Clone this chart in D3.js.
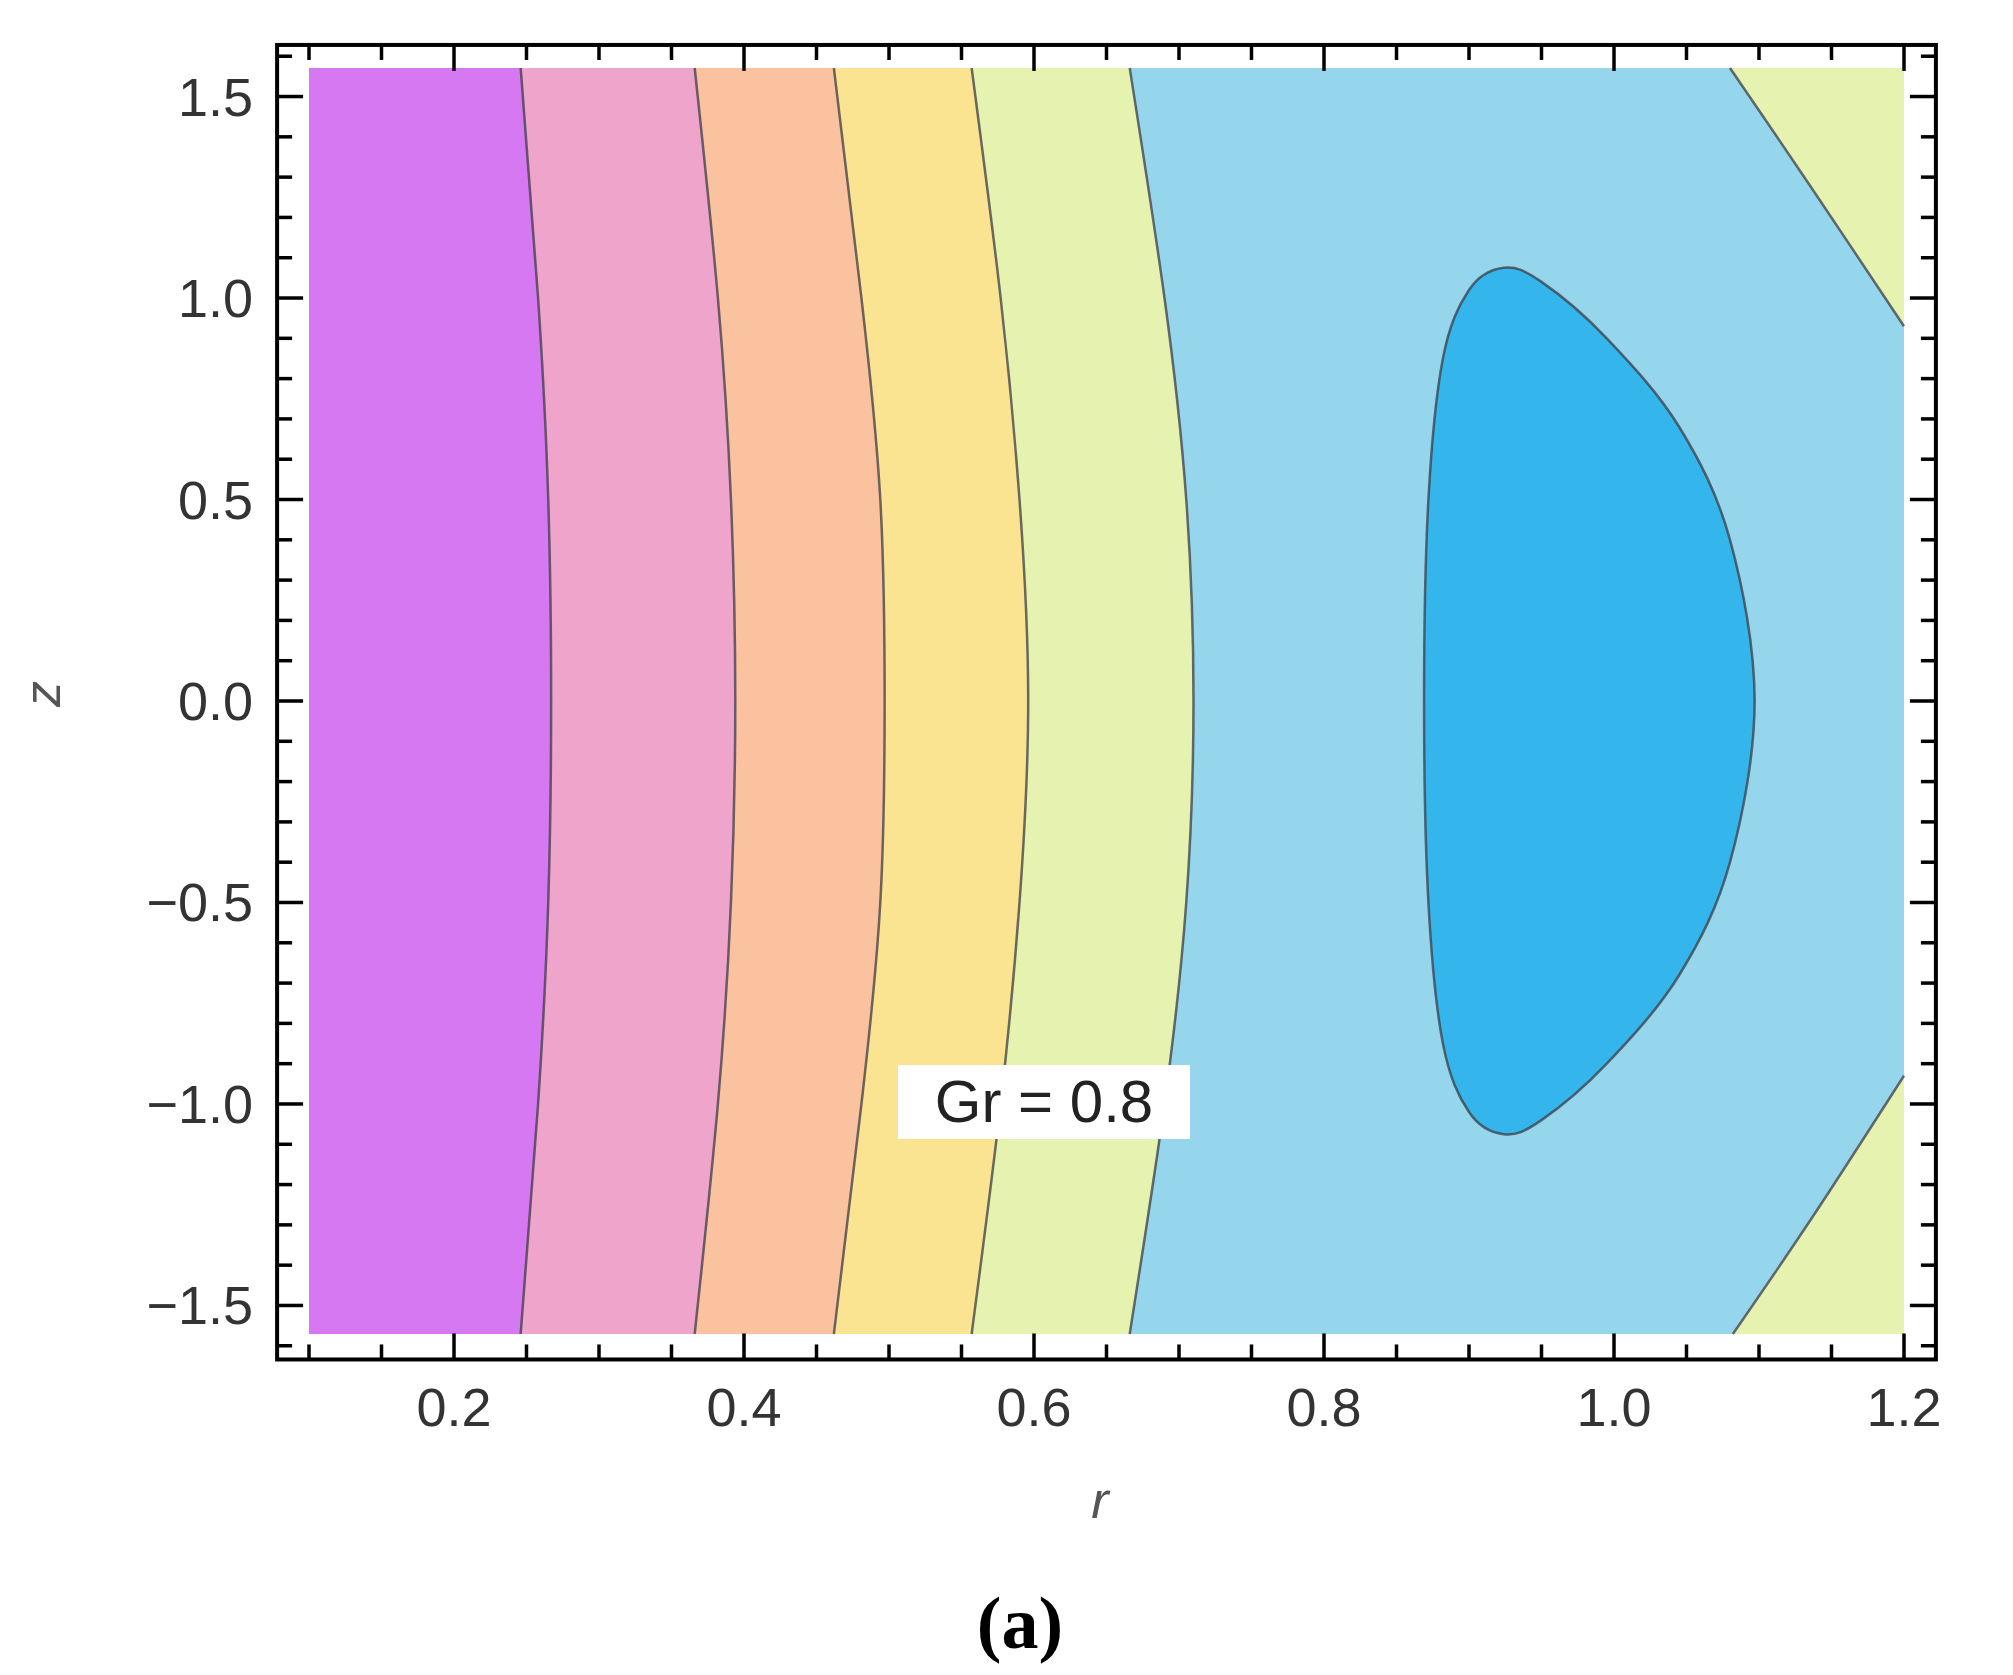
<!DOCTYPE html>
<html><head><meta charset="utf-8">
<script src="https://cdn.jsdelivr.net/npm/d3@7"></script>
<style>body{margin:0;background:#fff}</style></head>
<body><svg width="2013" height="1675"></svg>
<script>
// contour boundaries: r value at each z (symmetric in z)
const zs = [-1.5708, -1.0, -0.5, 0, 0.5, 1.0, 1.5708]
const bounds = [
  { r: [0.246, 0.258, 0.265, 0.267, 0.265, 0.258, 0.246], fill: "#d678f2" },
  { r: [0.366, 0.382, 0.391, 0.394, 0.391, 0.382, 0.366], fill: "#efa5cb" },
  { r: [0.462, 0.481, 0.494, 0.497, 0.494, 0.481, 0.462], fill: "#fbc29f" },
  { r: [0.557, 0.577, 0.590, 0.596, 0.590, 0.577, 0.557], fill: "#fbe491" },
  { r: [0.666, 0.690, 0.705, 0.710, 0.705, 0.690, 0.666], fill: "#e5f2b0" },
]
const cornerTop = [[1.080, 1.5708], [1.135, 1.28], [1.2, 0.93]]
const cornerBottom = [[1.082, -1.5708], [1.137, -1.28], [1.2, -0.93]]
const blob = [[0.869, 0], [0.872, 0.5], [0.882, 0.85], [0.900, 1.02], [0.924, 1.075],
  [0.950, 1.04], [0.995, 0.9], [1.045, 0.68], [1.080, 0.4], [1.097, 0],
  [1.080, -0.4], [1.045, -0.68], [0.995, -0.9], [0.950, -1.04], [0.924, -1.075],
  [0.900, -1.02], [0.882, -0.85], [0.872, -0.5]]
const xTicks = [0.2, 0.4, 0.6, 0.8, 1.0, 1.2]
const yTicks = [-1.5, -1.0, -0.5, 0.0, 0.5, 1.0, 1.5]

const svg = d3.select("svg")
const x = d3.scaleLinear().domain([0.1, 1.2]).range([309, 1904])
const y = d3.scaleLinear().domain([-Math.PI / 2, Math.PI / 2]).range([1334, 68])
const lineColor = "rgba(60,60,70,0.75)"

// background level
svg.append("rect")
  .attr("x", x(0.1)).attr("y", y(Math.PI / 2))
  .attr("width", x(1.2) - x(0.1)).attr("height", y(-Math.PI / 2) - y(Math.PI / 2))
  .attr("fill", "#96d6ed")

const area = d3.area().curve(d3.curveNatural)
  .y(d => y(d[1])).x0(x(0.1)).x1(d => x(d[0]))
const line = d3.line().curve(d3.curveNatural).x(d => x(d[0])).y(d => y(d[1]))

bounds.slice().reverse().forEach(b => {
  const pts = zs.map((z, i) => [b.r[i], z])
  svg.append("path").attr("d", area(pts)).attr("fill", b.fill)
})
bounds.forEach(b => {
  const pts = zs.map((z, i) => [b.r[i], z])
  svg.append("path").attr("d", line(pts)).attr("fill", "none")
    .attr("stroke", lineColor).attr("stroke-width", 2.5)
})

const cline = d3.line().curve(d3.curveCardinal).x(d => x(d[0])).y(d => y(d[1]))
;[[cornerTop, Math.PI / 2], [cornerBottom, -Math.PI / 2]].forEach(([c, zEdge]) => {
  const poly = c.concat([[1.2, zEdge]])
  svg.append("path").attr("d", d3.line().x(d => x(d[0])).y(d => y(d[1]))(poly) + "Z")
    .attr("fill", "#e5f2b0")
  svg.append("path").attr("d", cline(c)).attr("fill", "none")
    .attr("stroke", lineColor).attr("stroke-width", 2.5)
})

svg.append("path")
  .attr("d", d3.line().curve(d3.curveCardinalClosed).x(d => x(d[0])).y(d => y(d[1]))(blob))
  .attr("fill", "#34b6ec").attr("stroke", lineColor).attr("stroke-width", 2.5)

// frame
const fx0 = x(0.078), fx1 = x(1.222), fy0 = y(1.628), fy1 = y(-1.634)
svg.append("rect").attr("x", fx0).attr("y", fy0)
  .attr("width", fx1 - fx0).attr("height", fy1 - fy0)
  .attr("fill", "none").attr("stroke", "#000").attr("stroke-width", 4)

const tickG = svg.append("g").attr("stroke", "#000").attr("stroke-width", 3.5)
d3.range(0.1, 1.2001, 0.05).forEach(v => {
  const major = xTicks.some(t => Math.abs(t - v) < 1e-6)
  const len = major ? 26 : 15
  tickG.append("line").attr("x1", x(v)).attr("x2", x(v)).attr("y1", fy1).attr("y2", fy1 - len)
  tickG.append("line").attr("x1", x(v)).attr("x2", x(v)).attr("y1", fy0).attr("y2", fy0 + len)
})
d3.range(-1.6, 1.6001, 0.1).forEach(v => {
  const major = yTicks.some(t => Math.abs(t - v) < 1e-6)
  const len = major ? 26 : 15
  tickG.append("line").attr("y1", y(v)).attr("y2", y(v)).attr("x1", fx0).attr("x2", fx0 + len)
  tickG.append("line").attr("y1", y(v)).attr("y2", y(v)).attr("x1", fx1).attr("x2", fx1 - len)
})

const font = "Liberation Sans, Arial, sans-serif"
const fmt = v => (v < 0 ? "\u2212" : "") + Math.abs(v).toFixed(1)
svg.append("g").selectAll("text").data(xTicks).join("text")
  .attr("x", d => x(d)).attr("y", 1426).attr("text-anchor", "middle")
  .attr("font-family", font).attr("font-size", 54).attr("fill", "#333")
  .text(fmt)
svg.append("g").selectAll("text").data(yTicks).join("text")
  .attr("x", 253).attr("y", d => y(d) + 19).attr("text-anchor", "end")
  .attr("font-family", font).attr("font-size", 54).attr("fill", "#333")
  .text(fmt)

svg.append("text").attr("x", 1100).attr("y", 1518).attr("text-anchor", "middle")
  .attr("font-family", font).attr("font-style", "italic").attr("font-size", 52)
  .attr("fill", "#555").text("r")
svg.append("text").attr("transform", "translate(60,694) rotate(-90)").attr("text-anchor", "middle")
  .attr("font-family", font).attr("font-style", "italic").attr("font-size", 52)
  .attr("fill", "#555").text("z")

// label
svg.append("rect").attr("x", 898).attr("y", 1065).attr("width", 292).attr("height", 74).attr("fill", "#fff")
svg.append("text").attr("x", 1044).attr("y", 1122).attr("text-anchor", "middle")
  .attr("font-family", font).attr("font-size", 60).attr("fill", "#222").text("Gr = 0.8")

svg.append("text").attr("x", 1020).attr("y", 1648).attr("text-anchor", "middle")
  .attr("font-family", "Liberation Serif, Times New Roman, serif").attr("font-weight", "bold")
  .attr("font-size", 74).attr("fill", "#000").text("(a)")
</script></body></html>
